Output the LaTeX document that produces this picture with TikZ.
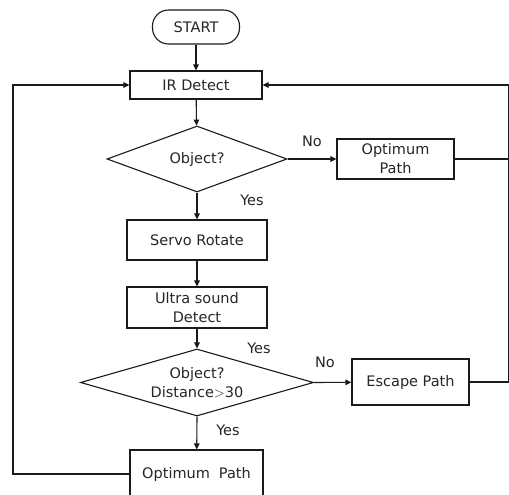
\documentclass[tikz,border=0pt]{standalone}
\usepackage{fontspec}
\setmainfont{DejaVu Sans}
\usetikzlibrary{arrows.meta,positioning,shapes.geometric}
\definecolor{ln}{HTML}{1A1A1A}
\definecolor{tx}{HTML}{262626}

\begin{document}
\begin{tikzpicture}[x=1pt,y=-1pt,
    box/.style={rectangle,draw=ln,line width=1.1pt,inner sep=0pt,align=center,text=tx,font=\fontsize{14.5}{19}\selectfont},
    term/.style={box,rounded corners=16pt},
    dec/.style={diamond,draw=ln,line width=1.1pt,inner sep=0pt,aspect=3,align=center,text=tx,font=\fontsize{14.5}{19}\selectfont},
    lbl/.style={text=tx,font=\fontsize{14.5}{17}\selectfont,inner sep=0pt},
    arr/.style={-{Triangle[length=6pt,width=5.5pt]},line width=1.1pt,draw=ln},
    ln/.style={line width=1.1pt,draw=ln},
]
\useasboundingbox (0,0) rectangle (509,495);
\clip (0,0) rectangle (509,495);
\fill[white] (0,0) rectangle (509,495);

% Main column
\node[term,minimum width=87pt,minimum height=34pt] (start) at (196,27) {START};
\node[box,minimum width=132pt,minimum height=28pt] (ir) at (196,85) {IR Detect};
\node[dec,minimum width=180pt,minimum height=66pt] (obj1) at (197,159) {Object?};
\node[box,minimum width=140pt,minimum height=40pt] (servo) at (197,240) {Servo Rotate};
\node[box,minimum width=140pt,minimum height=41pt] (ultra) at (197,307.5) {Ultra sound\\Detect};
\node[dec,minimum width=233pt,minimum height=67pt] (obj2) at (197,382.5) {Object?\\Distance$>$30};
\node[box,minimum width=133pt,minimum height=48pt] (optB) at (196.5,474) {Optimum\hspace{0.3em} Path};

% Side branches
\node[box,minimum width=117pt,minimum height=40pt] (optA) at (395.5,159) {Optimum\\Path};
\node[box,minimum width=117pt,minimum height=46pt] (escape) at (410.5,382) {Escape Path};

% Labels
\node[lbl] (no1) at (312,141) {No};
\node[lbl] (yes1) at (252,200) {Yes};
\node[lbl] (yes2) at (259,348) {Yes};
\node[lbl] (no2) at (325,362) {No};
\node[lbl] (yes3) at (228,430) {Yes};

% Loop corners
\coordinate (rtop) at (508.5,85);
\coordinate (rbot) at (508.5,382);
\coordinate (ltop) at (13,85);
\coordinate (lbot) at (13,474);

% Flow
\draw[arr] (start) -- (ir);
\draw[arr] (ir) -- (obj1);
\draw[arr] (obj1.east) -- (optA);
\draw[arr] (obj1.south) -- (servo);
\draw[arr] (servo) -- (ultra);
\draw[arr] (ultra) -- (obj2.north);
\draw[arr] (obj2.east) -- (escape);
\draw[arr] (obj2.south) -- (optB);

% Return lines
\draw[ln] (optA.east) -- (optA.east -| rtop);
\draw[ln] (escape.east) -- (rbot) -- (rtop);
\draw[arr] (rtop) -- (ir.east);
\draw[arr] (optB.west) -- (lbot) -- (ltop) -- (ir.west);
\end{tikzpicture}
\end{document}
